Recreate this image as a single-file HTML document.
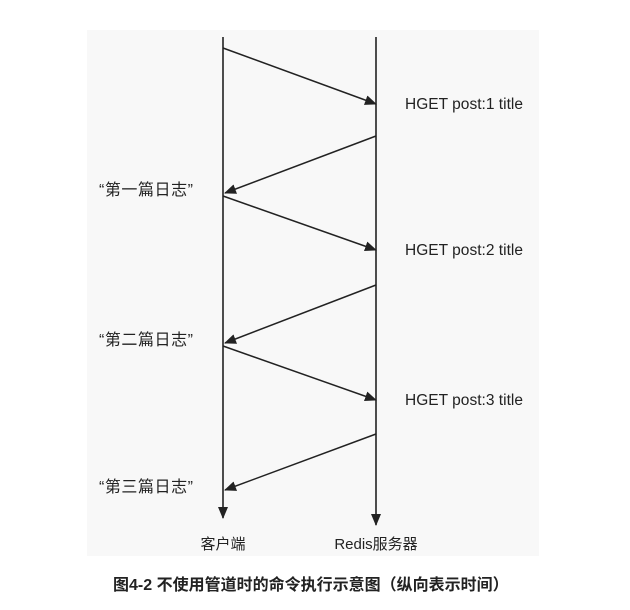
<!DOCTYPE html>
<html><head><meta charset="utf-8"><style>
body{margin:0;background:#fff;width:630px;height:610px;overflow:hidden}
svg{display:block}
text{font-family:"Liberation Sans","Noto Sans CJK SC",sans-serif;fill:#222}
</style></head><body>
<svg width="630" height="610">
<defs><marker id="ah" markerWidth="12" markerHeight="10" refX="11" refY="5" orient="auto" markerUnits="userSpaceOnUse"><path d="M0,0L12,5L0,10z" fill="#222"/></marker></defs>
<rect x="87" y="30" width="452" height="526" fill="#f8f8f8"/>
<g id="main"></g>
<text x="113" y="590" font-size="16" font-weight="bold" fill="#111">图4-2 不使用管道时的命令执行示意图（纵向表示时间）</text>
</svg>
<script>
const cmds=["HGET post:1 title","HGET post:2 title","HGET post:3 title"];
const replies=["“第一篇日志”","“第二篇日志”","“第三篇日志”"];
const reqStart=[48,196,346], reqEnd=[104,250,400];
const repStart=[136,285,434], repEnd=[193,343,490];
const cx=223, sx=376, NS="http://www.w3.org/2000/svg";
const g=document.getElementById('main');
function mk(t,a,txt){const e=document.createElementNS(NS,t);for(const k in a)e.setAttribute(k,a[k]);if(txt)e.textContent=txt;g.appendChild(e);return e;}
let e=mk('line',{x1:cx,y1:37,x2:cx,y2:518,stroke:'#222','stroke-width':1.6,'marker-end':'url(#ah)'});


e=mk('line',{x1:sx,y1:37,x2:sx,y2:525,stroke:'#222','stroke-width':1.6,'marker-end':'url(#ah)'});


for(let i=0;i<3;i++){
 e=mk('line',{x1:cx,y1:reqStart[i],x2:sx,y2:reqEnd[i],stroke:'#222','stroke-width':1.5,'marker-end':'url(#ah)'});
 
 
 e=mk('line',{x1:sx,y1:repStart[i],x2:cx+2,y2:repEnd[i],stroke:'#222','stroke-width':1.5,'marker-end':'url(#ah)'});
 
 
 e=mk('text',{x:405,y:reqEnd[i]+5,'font-size':15.5,textLength:118},cmds[i]);
 
 
 e=mk('text',{x:99,y:repEnd[i]+2,'font-size':16,textLength:94},replies[i]);
 
 
}
e=mk('text',{x:cx,y:549,'font-size':15,'text-anchor':'middle'},'客户端');


e=mk('text',{x:sx,y:549,'font-size':15,'text-anchor':'middle'},'Redis服务器');


</script>
</body></html>
